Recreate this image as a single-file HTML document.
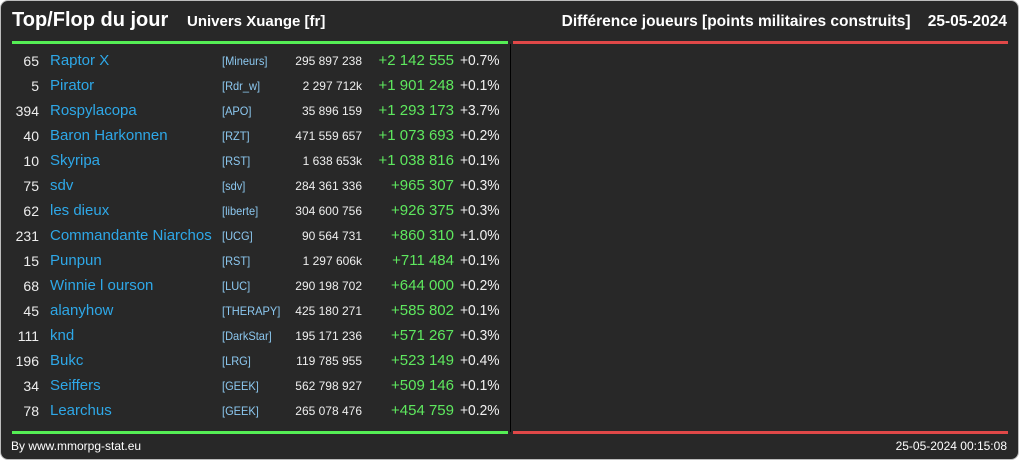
<!DOCTYPE html>
<html><head><meta charset="utf-8"><style>
body{margin:0;background:#fff;}
#c{position:relative;width:1017px;height:458px;background:#282828;border:1px solid #bdbdbd;border-radius:8px;overflow:hidden;font-family:"Liberation Sans",sans-serif;color:#eee;}
.a{position:absolute;white-space:nowrap;line-height:1;}
.r{text-align:right;}
</style></head><body>
<div id="c">
<div class="a" style="left:11px;top:9px;font-size:20px;font-weight:bold;color:#fff;">Top/Flop du jour</div>
<div class="a" style="left:186px;top:13px;font-size:15px;font-weight:bold;color:#fff;">Univers Xuange [fr]</div>
<div class="a r" style="right:11px;top:13px;font-size:15.5px;font-weight:bold;color:#fff;">Différence joueurs [points militaires construits]&nbsp;&nbsp;&nbsp;&nbsp;25-05-2024</div>
<div class="a" style="left:11px;top:40px;width:496px;height:3px;background:#55ee55;"></div>
<div class="a" style="left:512px;top:40px;width:495px;height:3px;background:#e04848;"></div>
<div class="a" style="left:509px;top:43px;width:1px;height:388px;background:#000;"></div>
<div class="a" style="left:11px;top:430px;width:496px;height:3px;background:#55ee55;"></div>
<div class="a" style="left:512px;top:430px;width:495px;height:3px;background:#e04848;"></div>
<div class="a" style="left:10px;top:439px;font-size:12px;color:#fff;">By www.mmorpg-stat.eu</div>
<div class="a r" style="right:11px;top:439px;font-size:12px;color:#fff;">25-05-2024 00:15:08</div>
</div>
<script>
const ranks=[65,5,394,40,10,75,62,231,15,68,45,111,196,34,78];
const names=["Raptor X","Pirator","Rospylacopa","Baron Harkonnen","Skyripa","sdv","les dieux","Commandante Niarchos","Punpun","Winnie l ourson","alanyhow","knd","Bukc","Seiffers","Learchus"];
const tags=["[Mineurs]","[Rdr_w]","[APO]","[RZT]","[RST]","[sdv]","[liberte]","[UCG]","[RST]","[LUC]","[THERAPY]","[DarkStar]","[LRG]","[GEEK]","[GEEK]"];
const totals=["295 897 238","2 297 712k","35 896 159","471 559 657","1 638 653k","284 361 336","304 600 756","90 564 731","1 297 606k","290 198 702","425 180 271","195 171 236","119 785 955","562 798 927","265 078 476"];
const diffs=["+2 142 555","+1 901 248","+1 293 173","+1 073 693","+1 038 816","+965 307","+926 375","+860 310","+711 484","+644 000","+585 802","+571 267","+523 149","+509 146","+454 759"];
const pcts=["+0.7%","+0.1%","+3.7%","+0.2%","+0.1%","+0.3%","+0.3%","+1.0%","+0.1%","+0.2%","+0.1%","+0.3%","+0.4%","+0.1%","+0.2%"];
const c=document.getElementById('c');
function cell(txt,css,name){const d=document.createElement('div');d.className='a';d.textContent=txt;d.style.cssText=css;


c.appendChild(d);}
ranks.forEach((r,i)=>{
const y=52+i*25;
cell(String(r),`right:${1019-40}px;top:${y+1}px;font-size:14px;color:#eee;text-align:right;`,'player-rank');
cell(names[i],`left:49px;top:${y}px;font-size:15px;color:#2ea8e8;`,'player-name');
cell(tags[i],`left:221px;top:${y+2}px;font-size:12px;color:#8cc8f0;transform:scaleX(0.92);transform-origin:left;`,'alliance-tag');
cell(totals[i],`right:${1019-363}px;top:${y+2}px;font-size:12px;color:#eee;text-align:right;`,'total-points');
cell(diffs[i],`right:${1019-455}px;top:${y}px;font-size:15px;color:#5ee85e;text-align:right;`,'points-gain');
cell(pcts[i],`left:459px;top:${y}px;font-size:15px;color:#f0f0f0;transform:scaleX(0.92);transform-origin:left;`,'percent-gain');
});
</script>
</body></html>
